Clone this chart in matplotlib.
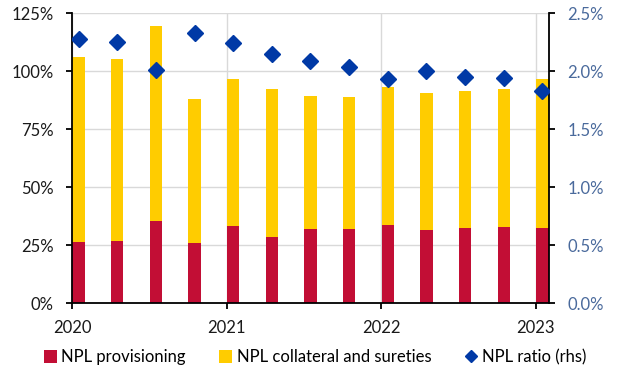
import numpy as np
import matplotlib
matplotlib.use("Agg")
from matplotlib import pyplot as plt
from matplotlib.patches import Patch
from matplotlib.lines import Line2D
from matplotlib.ticker import FuncFormatter

# quarterly NPL coverage (% of NPLs) and NPL ratio (%)
quarters = ["2020Q1", "2020Q2", "2020Q3", "2020Q4",
            "2021Q1", "2021Q2", "2021Q3", "2021Q4",
            "2022Q1", "2022Q2", "2022Q3", "2022Q4", "2023Q1"]
provisioning = [26.6, 26.9, 35.3, 25.9, 33.4, 28.6, 32.0, 32.0, 33.9, 31.6, 32.5, 32.9, 32.5]
collateral = [79.4, 78.4, 84.1, 62.2, 63.4, 63.6, 57.4, 56.9, 59.5, 58.9, 59.0, 59.6, 64.1]
npl_ratio = [2.28, 2.25, 2.01, 2.33, 2.24, 2.15, 2.09, 2.04, 1.93, 2.00, 1.95, 1.94, 1.83]
year_labels = ["2020", "2021", "2022", "2023"]

RED = "#C20E35"
YELLOW = "#FFCC00"
BLUE = "#0039A6"
RHS_TEXT = "#4A6A9C"

plt.rcParams["font.family"] = ["Lato", "DejaVu Sans"]
plt.rcParams["font.size"] = 12

fig = plt.figure(figsize=(6.17, 3.74), dpi=100)
ax = fig.add_axes([0.1167, 0.189, 0.7736, 0.7755])
ax2 = ax.twinx()

x = np.arange(len(quarters))
w = 0.32
ax.bar(x, provisioning, width=w, color=RED, zorder=2)
ax.bar(x, collateral, width=w, bottom=provisioning, color=YELLOW, zorder=2)
ax2.plot(x, npl_ratio, linestyle="none", marker="D", markersize=8,
         color=BLUE, zorder=3)

# year ticks sit at the start of each year, slightly left of Q1 bar
year_pos = [4 * i - 0.17 for i in range(len(year_labels))]
ax.set_xlim(-0.17, 12.18)
ax.set_xticks(year_pos)
ax.set_xticklabels(year_labels)

ax.set_ylim(0, 125)
ax.set_yticks(np.arange(0, 126, 25))
ax.yaxis.set_major_formatter(FuncFormatter(lambda v, p: f"{v:.0f}%"))
ax2.set_ylim(0, 2.5)
ax2.set_yticks(np.arange(0, 2.51, 0.5))
ax2.yaxis.set_major_formatter(FuncFormatter(lambda v, p: f"{v:.1f}%"))

ax.grid(True, color="#D9D9D9", linewidth=1.0, zorder=0)
ax.set_axisbelow(True)

for a in (ax, ax2):
    a.spines["top"].set_visible(False)
    for s in ("left", "right", "bottom"):
        a.spines[s].set_color("black")
        a.spines[s].set_linewidth(1.3)
ax.spines["right"].set_visible(False)
ax2.spines["left"].set_visible(False)
ax2.spines["bottom"].set_visible(False)

ax.tick_params(axis="y", direction="out", length=4, width=1.3, pad=9)
ax.tick_params(axis="x", direction="out", length=4, width=1.3, pad=8)
ax2.tick_params(axis="y", direction="out", length=4, width=1.3, pad=9)
for lbl in ax2.get_yticklabels():
    lbl.set_color(RHS_TEXT)
for lbl in ax.get_xticklabels() + ax.get_yticklabels():
    lbl.set_color("#1A1A1A")

handles = [
    Patch(facecolor=RED, edgecolor="none", label="NPL provisioning"),
    Patch(facecolor=YELLOW, edgecolor="none", label="NPL collateral and sureties"),
    Line2D([], [], linestyle="none", marker="D", markersize=6, color=BLUE,
           label="NPL ratio (rhs)"),
]
fig.legend(handles=handles, loc="center left", bbox_to_anchor=(0.071, 0.045), ncol=3,
           frameon=False, handlelength=0.8, handleheight=0.8, handletextpad=0.25,
           columnspacing=2.0, borderpad=0, borderaxespad=0, fontsize=12)

fig.savefig("out.png", dpi=100)
